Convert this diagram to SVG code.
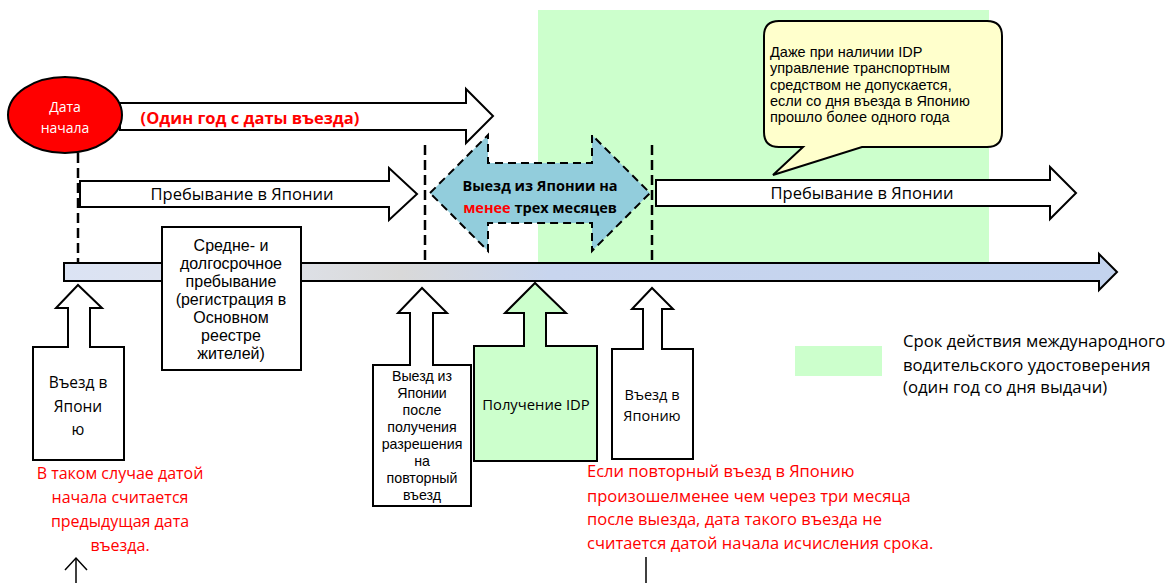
<svg xmlns="http://www.w3.org/2000/svg" width="1169" height="583" viewBox="0 0 1169 583">
  <defs>
    <linearGradient id="tl" gradientUnits="userSpaceOnUse" x1="64" y1="0" x2="1117" y2="0">
      <stop offset="0" stop-color="#dbe3f4"/>
      <stop offset="0.18" stop-color="#dfe3ec"/>
      <stop offset="0.32" stop-color="#d9d9d9"/>
      <stop offset="0.46" stop-color="#c8d5ee"/>
      <stop offset="1" stop-color="#c3d3ee"/>
    </linearGradient>
    <style>
      text { font-family: "Open Sans", "Noto Sans", "DejaVu Sans", sans-serif; fill: #000; }
      .tight { font-family: "Liberation Sans", Arial, sans-serif; }
      .shape { stroke: #000; stroke-width: 2; stroke-linejoin: miter; }
      .white { fill: #fff; }
      .dash { stroke: #000; stroke-width: 2.5; stroke-dasharray: 10 5; fill: none; }
      .red { fill: #ff0000; }
      .c { text-anchor: middle; }
      .b { font-weight: bold; }
    </style>
  </defs>

  <rect id="idp-period" x="538" y="10" width="451" height="253" fill="#ccffcc"/>

  <g id="connectors">
    <line class="dash" x1="78" y1="153" x2="78" y2="263"/>
    <line class="dash" x1="425" y1="145" x2="425" y2="263"/>
    <line class="dash" x1="652" y1="145" x2="652" y2="263"/>
    <line x1="76" y1="558" x2="76" y2="583" stroke="#000" stroke-width="1.5"/>
    <polyline points="65,570 76,558 87,570" fill="none" stroke="#000" stroke-width="1.5"/>
    <line x1="646" y1="557" x2="646" y2="583" stroke="#000" stroke-width="1.5"/>
  </g>

  <g id="one-year-arrow">
    <path class="shape white" d="M120,103 H466 V89 L493,116 L466,143 V130 H120 Z"/>
    <text class="c b red" x="250" y="124" font-size="16.5">(Один год с даты въезда)</text>
  </g>

  <g id="start-date">
    <ellipse cx="65" cy="115" rx="57" ry="38" fill="#ff0000" stroke="#000" stroke-width="2"/>
    <text class="c" x="65" y="112" font-size="14" style="fill:#fff">Дата<tspan x="65" dy="21">начала</tspan></text>
  </g>

  <g id="stay1">
    <path class="shape white" d="M80,181 H389 V168 L417,194 L389,220 V207 H80 Z"/>
    <text class="c" x="242" y="200" font-size="16.5">Пребывание в Японии</text>
  </g>

  <g id="departure">
    <path d="M430,193 L488,135 V163 H592 V135 L650,193 L592,251 V223 H488 V251 Z" fill="#92cddc" stroke="#000" stroke-width="2" stroke-dasharray="8 5"/>
    <text class="c b" x="540" y="191" font-size="14.5">Выезд из Японии на<tspan x="540" dy="22"><tspan class="red">менее</tspan> трех месяцев</tspan></text>
  </g>

  <g id="stay2">
    <path class="shape white" d="M656,180 H1050 V167 L1076,193 L1050,219 V206 H656 Z"/>
    <text class="c" x="862" y="199" font-size="16.5">Пребывание в Японии</text>
  </g>

  <g id="callout">
    <path d="M779,21 H987 Q1002,21 1002,36 V132 Q1002,147 987,147 H862 L773,175 L803,147 H779 Q764,147 764,132 V36 Q764,21 779,21 Z" fill="#ffffcc" stroke="#000" stroke-width="2"/>
    <text class="tight" x="770" y="57" font-size="14.5">Даже при наличии IDP<tspan x="770" dy="16.3">управление транспортным</tspan><tspan x="770" dy="16.3">средством не допускается,</tspan><tspan x="770" dy="16.3">если со дня въезда в Японию</tspan><tspan x="770" dy="16.3">прошло более одного года</tspan></text>
  </g>

  <g id="timeline">
    <path d="M64,263 H1099 V254 L1117,272 L1099,290 V281 H64 Z" fill="url(#tl)" stroke="#000" stroke-width="2"/>
  </g>

  <g id="mid-long-stay">
    <rect class="shape white" x="162" y="227" width="139" height="143"/>
    <text class="c tight" x="231" y="251" font-size="16">Средне- и<tspan x="231" dy="18">долгосрочное</tspan><tspan x="231" dy="18">пребывание</tspan><tspan x="231" dy="18">(регистрация в</tspan><tspan x="231" dy="18">Основном</tspan><tspan x="231" dy="18">реестре</tspan><tspan x="231" dy="18">жителей)</tspan></text>
  </g>

  <g id="entry1">
    <path class="shape white" d="M33,347 H68 V308 H56 L78,285 L102,308 H90 V347 H124 V460 H33 Z"/>
    <text class="c" x="78" y="388" font-size="15.5">Въезд в<tspan x="78" dy="23.5">Япони</tspan><tspan x="78" dy="23.5">ю</tspan></text>
  </g>

  <g id="note1">
    <text class="c red" x="120" y="479" font-size="16">В таком случае датой<tspan x="120" dy="24">начала считается</tspan><tspan x="120" dy="24">предыдущая дата</tspan><tspan x="120" dy="24">въезда.</tspan></text>
  </g>

  <g id="exit-reentry">
    <path class="shape white" d="M373,365 H410 V313 H398 L422,288 L447,313 H433 V365 H471 V506 H373 Z"/>
    <text class="c tight" x="422" y="381" font-size="14.2">Выезд из<tspan x="422" dy="17">Японии</tspan><tspan x="422" dy="17">после</tspan><tspan x="422" dy="17">получения</tspan><tspan x="422" dy="16.5">разрешения</tspan><tspan x="422" dy="17.5">на</tspan><tspan x="422" dy="16.5">повторный</tspan><tspan x="422" dy="17">въезд</tspan></text>
  </g>

  <g id="get-idp">
    <path class="shape" fill="#ccffcc" d="M474,346 H524 V313 H505 L535,283 L566,313 H546 V346 H597 V461 H474 Z"/>
    <text class="c" x="536" y="410" font-size="14.8">Получение IDP</text>
  </g>

  <g id="entry2">
    <path class="shape white" d="M612,349 H643 V309 H632 L652,288 L673,309 H662 V349 H693 V459 H612 Z"/>
    <text class="c" x="652" y="400" font-size="14.5">Въезд в<tspan x="652" dy="21">Японию</tspan></text>
  </g>

  <g id="note2">
    <text class="red" x="587" y="477" font-size="16.5">Если повторный въезд в Японию<tspan x="587" dy="24.5">произошелменее чем через три месяца</tspan><tspan x="587" dy="23.5">после выезда, дата такого въезда не</tspan><tspan x="587" dy="24">считается датой начала исчисления срока.</tspan></text>
  </g>

  <g id="legend">
    <rect x="795" y="346" width="87" height="30" fill="#ccffcc"/>
    <text x="903" y="347" font-size="16.7">Срок действия международного<tspan x="903" dy="24">водительского удостоверения</tspan><tspan x="903" dy="22">(один год со дня выдачи)</tspan></text>
  </g>
</svg>
